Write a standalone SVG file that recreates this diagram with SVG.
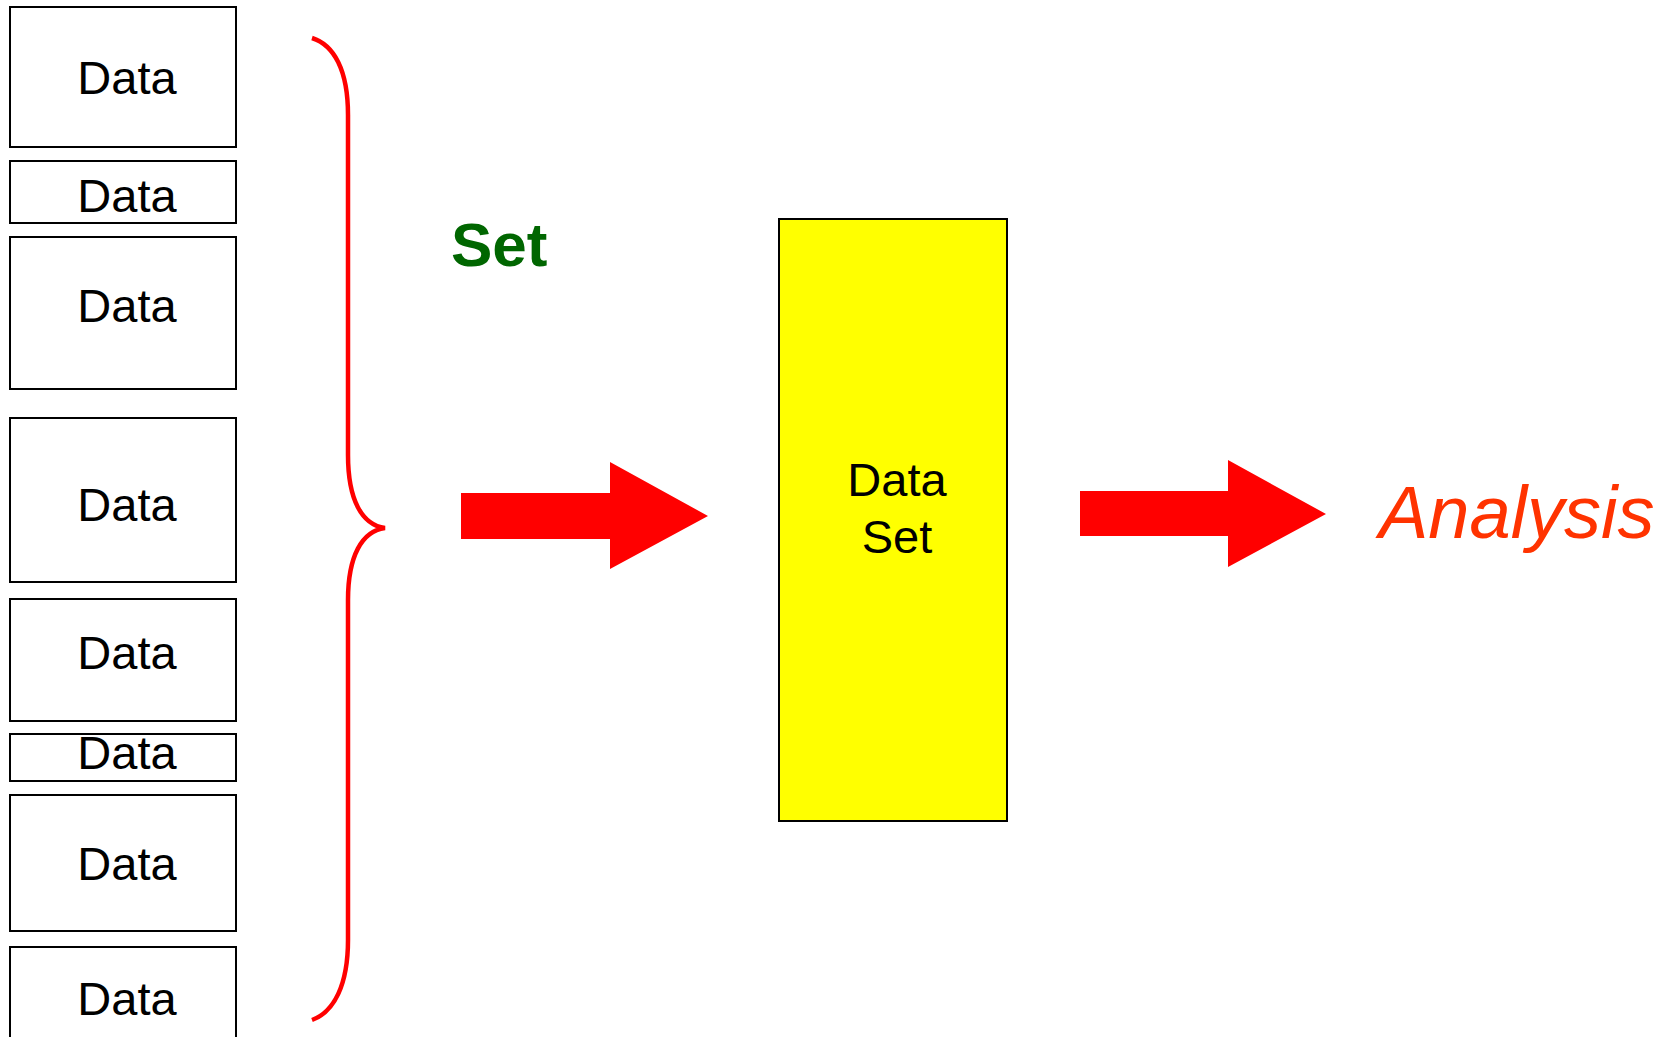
<svg xmlns="http://www.w3.org/2000/svg" width="1675" height="1037" viewBox="0 0 1675 1037">
<style>
.box{fill:#fff;stroke:#000;stroke-width:2}
.lbl{font-family:"Liberation Sans",Arial,sans-serif;font-size:47px;fill:#000;text-anchor:middle}
.arrow{fill:#ff0000}
</style>
<rect width="1675" height="1037" fill="#fff"/>
<g id="data1"><rect class="box" x="10" y="7" width="226" height="140"/><text class="lbl" x="127" y="94">Data</text></g>
<g id="data2"><rect class="box" x="10" y="161" width="226" height="62"/><text class="lbl" x="127" y="212">Data</text></g>
<g id="data3"><rect class="box" x="10" y="237" width="226" height="152"/><text class="lbl" x="127" y="322">Data</text></g>
<g id="data4"><rect class="box" x="10" y="418" width="226" height="164"/><text class="lbl" x="127" y="521">Data</text></g>
<g id="data5"><rect class="box" x="10" y="599" width="226" height="122"/><text class="lbl" x="127" y="669">Data</text></g>
<g id="data6"><rect class="box" x="10" y="734" width="226" height="47"/><text class="lbl" x="127" y="769">Data</text></g>
<g id="data7"><rect class="box" x="10" y="795" width="226" height="136"/><text class="lbl" x="127" y="880">Data</text></g>
<g id="data8"><rect class="box" x="10" y="947" width="226" height="100"/><text class="lbl" x="127" y="1015">Data</text></g>
<g id="brace"><path d="M312,38 C334,45 348,70 348,115 L348,455 C348,500 362,525 385,528 C362,531 348,556 348,600 L348,940 C348,985 334,1012 312,1020" fill="none" stroke="#ff0000" stroke-width="4.5"/></g>
<g id="set-label"><text x="451" y="266" font-family="'Liberation Sans',Arial,sans-serif" font-weight="bold" font-size="62" fill="#006600">Set</text></g>
<g id="dataset"><rect x="779" y="219" width="228" height="602" fill="#ffff00" stroke="#000" stroke-width="2"/><text class="lbl" x="897" y="496">Data</text><text class="lbl" x="897" y="553">Set</text></g>
<g id="connectors">
<polygon class="arrow" points="461,493 610,493 610,462 708,516 610,569 610,539 461,539"/>
<polygon class="arrow" points="1080,491 1228,491 1228,460 1326,514 1228,567 1228,536 1080,536"/>
</g>
<g id="analysis"><text x="1379" y="538" font-family="'Liberation Sans',Arial,sans-serif" font-style="italic" font-size="74" fill="#ff3300">Analysis</text></g>
</svg>
